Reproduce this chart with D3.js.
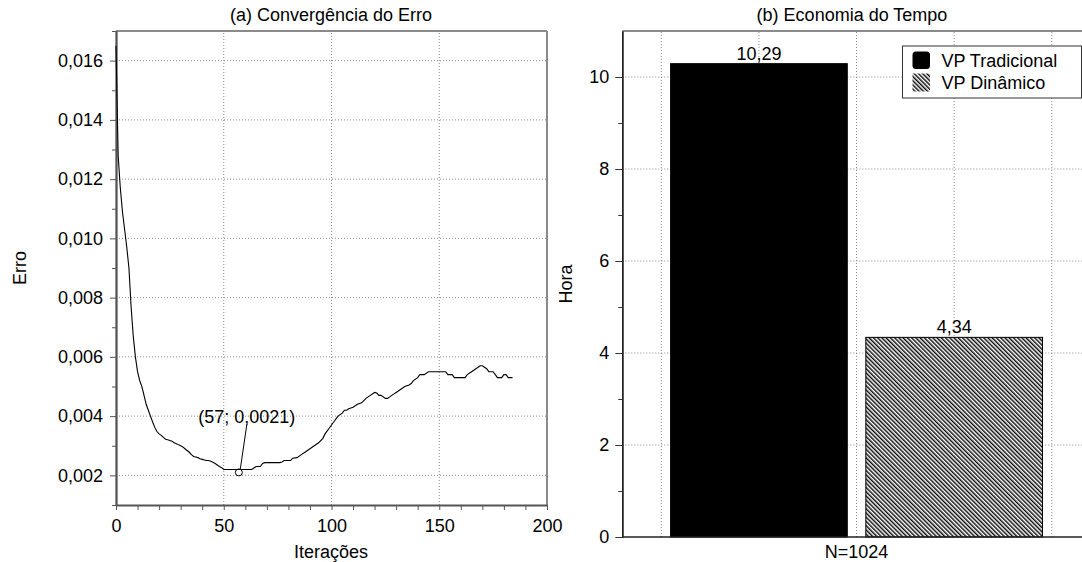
<!DOCTYPE html>
<html>
<head>
<meta charset="utf-8">
<script src="https://cdn.jsdelivr.net/npm/d3@7"></script>
<style>
  html, body { margin: 0; padding: 0; background: #fff; }
  svg { display: block; font-family: "Liberation Sans", Arial, Helvetica, sans-serif; }
</style>
</head>
<body>
<svg id="chart" width="1082" height="562"></svg>
<script>
// ---------- data ----------
const iterations = [0,1,2,3,4,5,6,7,8,9,10,11,12,13,14,15,16,17,18,19,20,21,22,23,24,25,26,27,28,29,30,31,32,33,34,35,36,37,38,39,40,41,42,43,44,45,46,47,48,49,50,52,55,58,61,63,64,65,67,68,69,72,76,77,78,81,82,84,86,88,90,92,94,96,97,99,101,103,105,106,107,108,110,112,114,116,118,120,121,122,123,125,126,127,128,129,130,132,134,136,137,138,140,141,143,145,147,148,150,153,154,156,157,160,162,163,165,167,169,170,171,172,173,175,176,177,179,180,181,182,184];
const errors = [0.0165,0.0128,0.0117,0.0109,0.0103,0.0097,0.0090,0.0077,0.0067,0.0060,0.0055,0.0052,0.0050,0.0047,0.0044,0.0042,0.0040,0.0038,0.00362,0.00348,0.0034,0.00335,0.00328,0.00322,0.0032,0.00318,0.00315,0.0031,0.00307,0.00303,0.0030,0.00296,0.0029,0.00284,0.00278,0.0027,0.00264,0.00262,0.0026,0.00256,0.00254,0.00252,0.0025,0.0025,0.00248,0.00244,0.0024,0.00235,0.0023,0.00226,0.0022,0.0022,0.0022,0.0022,0.0022,0.0022,0.00225,0.0023,0.0023,0.0024,0.00243,0.00243,0.00243,0.00245,0.0025,0.0025,0.00258,0.0026,0.0027,0.0028,0.0029,0.0030,0.0031,0.00325,0.0034,0.0036,0.0038,0.0040,0.0041,0.0042,0.0042,0.00425,0.0043,0.0044,0.00445,0.0046,0.0047,0.0048,0.00478,0.0047,0.0047,0.0046,0.0046,0.00465,0.0047,0.00475,0.0048,0.0049,0.0050,0.00505,0.0051,0.0052,0.0053,0.0054,0.0054,0.0055,0.0055,0.0055,0.0055,0.0055,0.0054,0.0054,0.0053,0.0053,0.0053,0.0054,0.0055,0.0056,0.0057,0.0057,0.00565,0.0056,0.0055,0.0055,0.0054,0.0053,0.0053,0.0054,0.0054,0.0053,0.0053];
const minPoint = [57, 0.0021];
const minLabel = "(57; 0,0021)";
const errTicks = [0.002,0.004,0.006,0.008,0.010,0.012,0.014,0.016];
const errMinorTicks = [0.001,0.003,0.005,0.007,0.009,0.011,0.013,0.015,0.017];
const iterTicks = [0,50,100,150,200];
const iterMinorTicks = d3.range(0, 201, 10);

const barNames = ["VP Tradicional", "VP Dinâmico"];
const barValues = [10.29, 4.34];
const barLabels = ["10,29", "4,34"];
const barX = [0.8, 1.2];
const barGroupLabel = "N=1024";
const horaTicks = [0,2,4,6,8,10];
const horaMinorTicks = [1,3,5,7,9];
const barGridX = [0.6, 0.8, 1.0, 1.2, 1.4];

const titleA = "(a) Convergência do Erro";
const titleB = "(b) Economia do Tempo";

// ---------- setup ----------
const svg = d3.select("#chart");
const FS = 18;
const gridColor = "#8c8c8c";
const axisColor = "#555";
const frameColor = "#8a8a8a";
const comma = d3.formatLocale({decimal: ",", thousands: ".", grouping: [3], currency: ["", ""]});
const fmt3 = comma.format(".3f");

const defs = svg.append("defs");
const pat = defs.append("pattern")
  .attr("id", "hatch").attr("patternUnits", "userSpaceOnUse")
  .attr("width", 3).attr("height", 3)
  .attr("patternTransform", "rotate(-45)");
pat.append("rect").attr("width", 3).attr("height", 3).attr("fill", "#fff");
pat.append("line").attr("x1", 0.75).attr("y1", 0).attr("x2", 0.75).attr("y2", 3)
  .attr("stroke", "#000").attr("stroke-width", 1.4);

// ---------- panel (a) ----------
const xA = d3.scaleLinear().domain([0, 200]).range([116, 547]);
const yA = d3.scaleLinear().domain([0.001, 0.017]).range([505, 31]);
const gA = svg.append("g");

// grid
gA.append("g").selectAll("line").data([50,100,150]).join("line")
  .attr("x1", d => xA(d)).attr("x2", d => xA(d))
  .attr("y1", yA.range()[0]).attr("y2", yA.range()[1])
  .attr("stroke", gridColor).attr("stroke-width", 1).attr("stroke-dasharray", "1,2");
gA.append("g").selectAll("line").data(errTicks).join("line")
  .attr("x1", xA.range()[0]).attr("x2", xA.range()[1])
  .attr("y1", d => yA(d)).attr("y2", d => yA(d))
  .attr("stroke", gridColor).attr("stroke-width", 1).attr("stroke-dasharray", "1,2");

// frame (top & right)
gA.append("line").attr("x1", xA.range()[0]).attr("x2", xA.range()[1]).attr("y1", 31).attr("y2", 31)
  .attr("stroke", frameColor).attr("stroke-width", 2);
gA.append("line").attr("x1", xA.range()[1]).attr("x2", xA.range()[1]).attr("y1", 31).attr("y2", 505)
  .attr("stroke", frameColor).attr("stroke-width", 2);

// axes
const axAx = gA.append("g").attr("transform", `translate(0,${yA.range()[0]})`)
  .call(d3.axisBottom(xA).tickValues(iterMinorTicks).tickSize(5).tickSizeOuter(0)
    .tickFormat(d => iterTicks.includes(d) ? d : ""));
const axAy = gA.append("g").attr("transform", `translate(${xA.range()[0]},0)`)
  .call(d3.axisLeft(yA).tickValues(errTicks).tickSize(6).tickPadding(7).tickSizeOuter(0).tickFormat(fmt3));
gA.append("g").attr("transform", `translate(${xA.range()[0]},0)`)
  .call(d3.axisLeft(yA).tickValues(errMinorTicks).tickSize(4).tickSizeOuter(0).tickFormat(""));
[axAx, axAy].forEach(a => {
  a.selectAll("text").attr("font-size", FS).attr("fill", "#000").attr("font-family", "Liberation Sans, Arial, sans-serif");
});
axAx.selectAll("text").attr("dy", "1.05em");
gA.selectAll(".domain").attr("stroke", axisColor).attr("stroke-width", 1.8);
gA.selectAll(".tick line").attr("stroke", axisColor);

// line
const line = d3.line().x((d, i) => xA(iterations[i])).y(d => yA(d));
gA.append("path").datum(errors).attr("d", line)
  .attr("fill", "none").attr("stroke", "#000").attr("stroke-width", 1.1);

// annotation
const px = xA(minPoint[0]), py = yA(minPoint[1]);
gA.append("line").attr("x1", px + 1.5).attr("y1", py - 3.5).attr("x2", px + 8).attr("y2", py - 48)
  .attr("stroke", "#000").attr("stroke-width", 1);
gA.append("circle").attr("cx", px).attr("cy", py).attr("r", 3.5)
  .attr("fill", "none").attr("stroke", "#000").attr("stroke-width", 1);
gA.append("text").attr("x", px + 8).attr("y", py - 49).attr("text-anchor", "middle")
  .attr("font-size", FS).text(minLabel);

// titles/labels
gA.append("text").attr("x", 331).attr("y", 21).attr("text-anchor", "middle").attr("font-size", FS).text(titleA);
gA.append("text").attr("x", 331).attr("y", 558).attr("text-anchor", "middle").attr("font-size", FS).text("Iterações");
gA.append("text").attr("transform", "translate(26,268) rotate(-90)").attr("text-anchor", "middle")
  .attr("font-size", FS).text("Erro");

// ---------- panel (b) ----------
const xB = d3.scaleLinear().domain([0.52, 1.48]).range([622.3, 1090.8]);
const yB = d3.scaleLinear().domain([0, 11]).range([537, 31]);
const gB = svg.append("g");
const barW = xB(0.362) - xB(0);

gB.append("g").selectAll("line").data(barGridX).join("line")
  .attr("x1", d => xB(d)).attr("x2", d => xB(d))
  .attr("y1", yB.range()[0]).attr("y2", yB.range()[1])
  .attr("stroke", gridColor).attr("stroke-width", 1).attr("stroke-dasharray", "1,2");
gB.append("g").selectAll("line").data(horaTicks.filter(d => d > 0)).join("line")
  .attr("x1", xB.range()[0]).attr("x2", xB.range()[1])
  .attr("y1", d => yB(d)).attr("y2", d => yB(d))
  .attr("stroke", gridColor).attr("stroke-width", 1).attr("stroke-dasharray", "1,2");

// bars
gB.append("g").selectAll("rect").data(barValues).join("rect")
  .attr("x", (d, i) => xB(barX[i]) - barW / 2)
  .attr("width", barW)
  .attr("y", d => yB(d))
  .attr("height", d => yB(0) - yB(d))
  .attr("fill", (d, i) => i === 0 ? "#000" : "url(#hatch)")
  .attr("stroke", "#000").attr("stroke-width", 1);

gB.append("g").selectAll("text").data(barValues).join("text")
  .attr("x", (d, i) => xB(barX[i]))
  .attr("y", d => yB(d) - 4)
  .attr("text-anchor", "middle").attr("font-size", FS)
  .text((d, i) => barLabels[i]);

// frame top
gB.append("line").attr("x1", xB.range()[0]).attr("x2", 1082).attr("y1", 31).attr("y2", 31)
  .attr("stroke", frameColor).attr("stroke-width", 2);

// axes
const axBy = gB.append("g").attr("transform", `translate(${xB.range()[0]},0)`)
  .call(d3.axisLeft(yB).tickValues(horaTicks).tickSize(7).tickPadding(6).tickSizeOuter(0).tickFormat(d => d));
gB.append("g").attr("transform", `translate(${xB.range()[0]},0)`)
  .call(d3.axisLeft(yB).tickValues(horaMinorTicks).tickSize(4).tickSizeOuter(0).tickFormat(""));
gB.append("line").attr("x1", xB.range()[0]).attr("x2", 1082).attr("y1", yB(0)).attr("y2", yB(0))
  .attr("stroke", "#222").attr("stroke-width", 1.4);
axBy.selectAll("text").attr("font-size", FS).attr("fill", "#000");
gB.selectAll(".domain").attr("stroke", "#222").attr("stroke-width", 1.4);
gB.selectAll(".tick line").attr("stroke", "#333");

gB.append("text").attr("x", xB(1.0)).attr("y", 558).attr("text-anchor", "middle").attr("font-size", FS).text(barGroupLabel);
gB.append("text").attr("x", 852).attr("y", 21).attr("text-anchor", "middle").attr("font-size", FS).text(titleB);
gB.append("text").attr("transform", "translate(572,284) rotate(-90)").attr("text-anchor", "middle")
  .attr("font-size", FS).text("Hora");

// legend
const lg = gB.append("g").attr("transform", "translate(902.5,46)");
lg.append("rect").attr("width", 179).attr("height", 52).attr("fill", "#fff")
  .attr("stroke", "#333").attr("stroke-width", 1);
lg.append("rect").attr("x", 10).attr("y", 5.5).attr("width", 17.5).attr("height", 17.5).attr("rx", 3.5)
  .attr("fill", "#000");
lg.append("rect").attr("x", 10).attr("y", 27.5).attr("width", 17.5).attr("height", 18)
  .attr("fill", "url(#hatch)");
lg.selectAll("text.lab").data(barNames).join("text").attr("class", "lab")
  .attr("x", 39).attr("y", (d, i) => 21 + i * 22)
  .attr("font-size", FS).text(d => d);
</script>
</body>
</html>
